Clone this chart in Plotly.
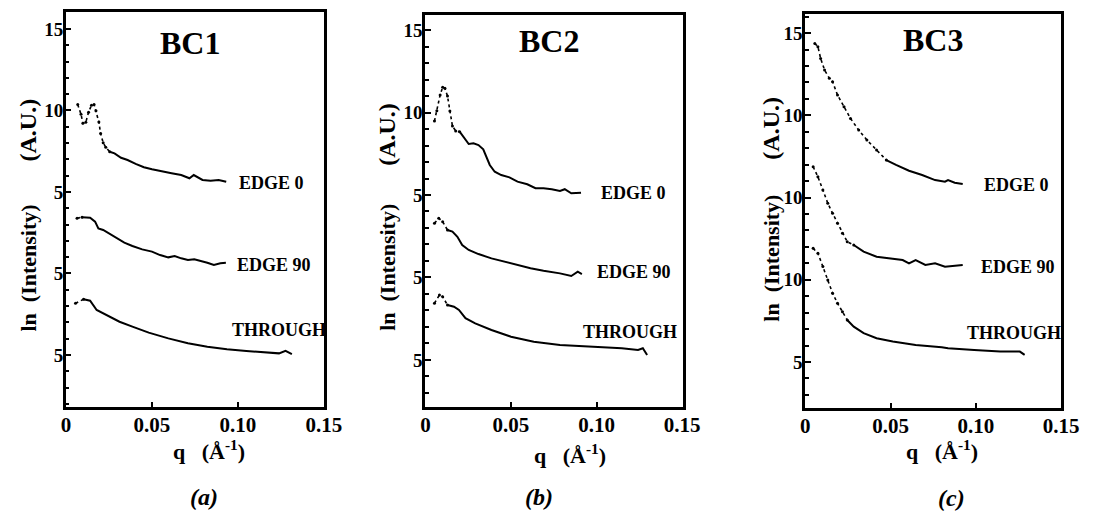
import plotly.graph_objects as go

# ---------------- data ----------------
PANELS = ["BC1", "BC2", "BC3"]
SUBCAPTIONS = ["(a)", "(b)", "(c)"]
CURVE_NAMES = ["EDGE 0", "EDGE 90", "THROUGH"]
CURVE_OFFSETS = [0, -5, -10]          # vertical shift applied to each curve

X_TICK_VALS = [0, 0.05, 0.10, 0.15]
X_TICK_TEXT = ["0", "0.05", "0.10", "0.15"]
Y_TICK_VALS = [15, 10, 5, 0, -5]
Y_TICK_TEXT_BC1 = ["15", "10", "5", "5", "5"]
Y_TICK_TEXT_BC2 = ["15", "10", "5", "5", "5"]
Y_TICK_TEXT_BC3 = ["15", "10", "10", "10", "5"]

# ---- BC1 ----
BC1_EDGE0_Q = [0.0068, 0.0087, 0.0098, 0.0115, 0.0131, 0.0148, 0.0163, 0.0174, 0.0191, 0.0201,
               0.0216, 0.0231, 0.0254, 0.0282, 0.0320, 0.0358, 0.0405, 0.0453, 0.0500, 0.0557,
               0.0614, 0.0670, 0.0718, 0.0743, 0.0765, 0.0794, 0.0841, 0.0888, 0.0932]
BC1_EDGE0_LNI = [10.36, 9.77, 9.21, 9.28, 9.89, 10.32, 10.36, 9.99, 9.29, 8.58,
                 8.02, 7.74, 7.47, 7.37, 7.10, 6.96, 6.72, 6.52, 6.39, 6.25,
                 6.15, 6.04, 5.84, 6.04, 5.90, 5.74, 5.69, 5.74, 5.63]
BC1_EDGE90_Q = [0.0064, 0.0093, 0.0140, 0.0169, 0.0188, 0.0216, 0.0254, 0.0291, 0.0339, 0.0386,
                0.0443, 0.0500, 0.0547, 0.0595, 0.0632, 0.0670, 0.0709, 0.0746, 0.0784, 0.0822,
                0.0860, 0.0898, 0.0930]
BC1_EDGE90_LNI = [8.39, 8.45, 8.42, 8.18, 7.77, 7.67, 7.42, 7.16, 6.89, 6.69,
                  6.48, 6.34, 6.13, 5.99, 6.07, 5.93, 5.83, 5.87, 5.77, 5.66,
                  5.52, 5.63, 5.66]
BC1_THROUGH_Q = [0.0055, 0.0102, 0.0140, 0.0178, 0.0235, 0.0311, 0.0386, 0.0481, 0.0595, 0.0709,
                 0.0822, 0.0936, 0.1049, 0.1163, 0.1239, 0.1277, 0.1314]
BC1_THROUGH_LNI = [8.17, 8.42, 8.33, 7.76, 7.45, 7.04, 6.74, 6.37, 6.02, 5.72,
                   5.51, 5.35, 5.25, 5.17, 5.10, 5.26, 5.06]

# ---- BC2 ----
BC2_EDGE0_Q = [0.0053, 0.0067, 0.0086, 0.0101, 0.0114, 0.0129, 0.0143, 0.0158, 0.0177, 0.0200,
               0.0224, 0.0253, 0.0281, 0.0310, 0.0338, 0.0358, 0.0376, 0.0405, 0.0443, 0.0491,
               0.0538, 0.0595, 0.0643, 0.0690, 0.0738, 0.0786, 0.0814, 0.0852, 0.0909]
BC2_EDGE0_LNI = [9.48, 10.11, 11.06, 11.53, 11.47, 11.00, 10.09, 9.18, 8.88, 8.84,
                 8.50, 8.09, 8.13, 8.03, 7.77, 7.32, 6.82, 6.41, 6.21, 6.07,
                 5.81, 5.65, 5.41, 5.41, 5.35, 5.24, 5.35, 5.10, 5.14]
BC2_EDGE90_Q = [0.0053, 0.0078, 0.0101, 0.0129, 0.0158, 0.0187, 0.0215, 0.0253, 0.0310, 0.0386,
                0.0462, 0.0538, 0.0614, 0.0690, 0.0786, 0.0852, 0.0890, 0.0914]
BC2_EDGE90_LNI = [8.28, 8.59, 8.38, 7.88, 7.78, 7.47, 6.97, 6.67, 6.42, 6.16,
                  5.96, 5.76, 5.56, 5.41, 5.25, 5.09, 5.35, 5.21]
BC2_THROUGH_Q = [0.0053, 0.0082, 0.0101, 0.0129, 0.0167, 0.0196, 0.0234, 0.0291, 0.0386, 0.0500,
                 0.0633, 0.0786, 0.0994, 0.1147, 0.1242, 0.1270, 0.1295]
BC2_THROUGH_LNI = [8.44, 8.94, 8.84, 8.33, 8.23, 8.03, 7.53, 7.22, 6.82, 6.41,
                   6.11, 5.91, 5.81, 5.71, 5.61, 5.71, 5.30]

# ---- BC3 ----
BC3_EDGE0_Q = [0.0056, 0.0074, 0.0090, 0.0113, 0.0141, 0.0160, 0.0189, 0.0227, 0.0265, 0.0313,
               0.0361, 0.0418, 0.0475, 0.0532, 0.0608, 0.0685, 0.0761, 0.0819, 0.0837, 0.0876,
               0.0923]
BC3_EDGE0_LNI = [14.37, 14.17, 13.46, 12.75, 12.25, 12.04, 11.23, 10.52, 9.81, 9.10,
                 8.50, 7.89, 7.28, 6.98, 6.63, 6.37, 6.06, 5.96, 6.06, 5.90,
                 5.82]
BC3_EDGE90_Q = [0.0046, 0.0074, 0.0103, 0.0132, 0.0160, 0.0189, 0.0218, 0.0246, 0.0284, 0.0342,
                0.0418, 0.0494, 0.0571, 0.0608, 0.0647, 0.0704, 0.0761, 0.0819, 0.0876, 0.0923]
BC3_EDGE90_LNI = [11.87, 11.26, 10.46, 9.65, 9.04, 8.43, 7.82, 7.31, 7.11, 6.71,
                  6.40, 6.30, 6.20, 6.00, 6.20, 5.90, 6.00, 5.79, 5.84, 5.90]
BC3_THROUGH_Q = [0.0046, 0.0074, 0.0103, 0.0132, 0.0160, 0.0189, 0.0218, 0.0246, 0.0284, 0.0342,
                 0.0418, 0.0513, 0.0647, 0.0800, 0.0837, 0.0990, 0.1143, 0.1258, 0.1286]
BC3_THROUGH_LNI = [11.91, 11.61, 10.80, 9.99, 9.18, 8.57, 8.06, 7.55, 7.15, 6.75,
                   6.44, 6.24, 6.03, 5.89, 5.83, 5.73, 5.63, 5.63, 5.43]

DATA = {
    "BC1": [(BC1_EDGE0_Q, BC1_EDGE0_LNI), (BC1_EDGE90_Q, BC1_EDGE90_LNI), (BC1_THROUGH_Q, BC1_THROUGH_LNI)],
    "BC2": [(BC2_EDGE0_Q, BC2_EDGE0_LNI), (BC2_EDGE90_Q, BC2_EDGE90_LNI), (BC2_THROUGH_Q, BC2_THROUGH_LNI)],
    "BC3": [(BC3_EDGE0_Q, BC3_EDGE0_LNI), (BC3_EDGE90_Q, BC3_EDGE90_LNI), (BC3_THROUGH_Q, BC3_THROUGH_LNI)],
}
Y_TICK_TEXT = {"BC1": Y_TICK_TEXT_BC1, "BC2": Y_TICK_TEXT_BC2, "BC3": Y_TICK_TEXT_BC3}

# ---------------- styling / layout ----------------
W, H = 1102, 513
SERIF = "Liberation Serif, Times New Roman, DejaVu Serif, serif"
# number of leading points drawn as sparse dots (rest is a dense trace)
DOTTED_UNTIL = {"BC1": [12, 1, 1], "BC2": [9, 3, 3], "BC3": [12, 8, 7]}

# plot boxes in pixels: (left, right, top, bottom)
BOX = {"BC1": (62, 326, 12, 407), "BC2": (429, 692, 15, 407), "BC3": (817, 1079, 14, 408)}
Y_RANGE = {"BC1": [-8.19, 16.04], "BC2": [-7.85, 15.91], "BC3": [-7.80, 16.16]}
X_RANGE = [-0.0002, 0.1502]

TITLE_POS = {"BC1": (189, 43), "BC2": (556, 41), "BC3": (948, 40)}
LABEL_POS = {
    "BC1": [(237, 183), (235, 265), (230, 330)],
    "BC2": [(607, 193), (603, 272), (588, 332)],
    "BC3": [(998, 185), (995, 267), (980, 333)],
}
YTITLE_POS = {"BC1": (23, 268, 130), "BC2": (390, 267, 134), "BC3": (782, 258, 128)}
XTITLE_POS = {"BC1": (208, 450), "BC2": (577, 454), "BC3": (957, 450)}
SUB_POS = {"BC1": (203, 497), "BC2": (545, 497), "BC3": (967, 498)}

fig = go.Figure()
annotations = []
layout_axes = {}

def px_x(p):
    return p / W

def px_y(p):
    return 1 - p / H

for i, panel in enumerate(PANELS):
    sfx = "" if i == 0 else str(i + 1)
    xa, ya = "x" + sfx, "y" + sfx
    for (q, lni), off, nd in zip(DATA[panel], CURVE_OFFSETS, DOTTED_UNTIL[panel]):
        yv = [v + off for v in lni]
        # sparse dotted part
        fig.add_trace(go.Scatter(
            x=q[:nd + 1], y=yv[:nd + 1], mode="lines+markers", xaxis=xa, yaxis=ya,
            line=dict(color="black", width=1.6, dash="dot"),
            marker=dict(color="black", size=3), showlegend=False, hoverinfo="skip"))
        # dense part
        fig.add_trace(go.Scatter(
            x=q[nd:], y=yv[nd:], mode="lines", xaxis=xa, yaxis=ya,
            line=dict(color="black", width=2), showlegend=False, hoverinfo="skip"))

    l, r, t, b = BOX[panel]
    axis_common = dict(showline=True, linecolor="black", linewidth=2.5, mirror=True,
                       showgrid=False, zeroline=False, ticks="inside", tickcolor="black")
    layout_axes["xaxis" + sfx] = dict(
        axis_common, domain=[px_x(l), px_x(r)], anchor=ya, range=X_RANGE,
        tickmode="array", tickvals=X_TICK_VALS, ticktext=X_TICK_TEXT,
        ticklen=5, tickwidth=2, ticklabelstandoff=-3,
        tickfont=dict(family=SERIF, size=21, color="black", weight="bold"))
    layout_axes["yaxis" + sfx] = dict(
        axis_common, domain=[px_y(b), px_y(t)], anchor=xa, range=Y_RANGE[panel],
        tickmode="array", tickvals=Y_TICK_VALS, ticktext=Y_TICK_TEXT[panel],
        ticklen=6, tickwidth=2, ticklabelstandoff=-4,
        tickfont=dict(family=SERIF, size=19, color="black", weight="bold"),
        minor=dict(tickmode="linear", tick0=0, dtick=1, ticks="inside", ticklen=4,
                   tickwidth=2, tickcolor="black", showgrid=False))

    tx, ty = TITLE_POS[panel]
    annotations.append(dict(text=panel, x=px_x(tx), y=px_y(ty), xref="paper", yref="paper",
                            showarrow=False, xanchor="center", yanchor="middle",
                            font=dict(family=SERIF, size=32, color="black", weight="bold")))
    for name, (lx, ly) in zip(CURVE_NAMES, LABEL_POS[panel]):
        annotations.append(dict(text=name, x=px_x(lx), y=px_y(ly), xref="paper", yref="paper",
                                showarrow=False, xanchor="left", yanchor="middle",
                                font=dict(family=SERIF, size=18, color="black", weight="bold")))
    yx, y1, y2 = YTITLE_POS[panel]
    annotations.append(dict(text="ln\u00a0\u00a0(Intensity)", x=px_x(yx), y=px_y(y1),
                            xref="paper", yref="paper", textangle=-90, showarrow=False,
                            xanchor="center", yanchor="middle",
                            font=dict(family=SERIF, size=22, color="black", weight="bold")))
    annotations.append(dict(text="(A.U.)", x=px_x(yx), y=px_y(y2),
                            xref="paper", yref="paper", textangle=-90, showarrow=False,
                            xanchor="center", yanchor="middle",
                            font=dict(family=SERIF, size=24, color="black", weight="bold")))
    qx, qy = XTITLE_POS[panel]
    annotations.append(dict(text="q\u00a0\u00a0\u00a0(Å<sup>-1</sup>)", x=px_x(qx), y=px_y(qy),
                            xref="paper", yref="paper", showarrow=False,
                            xanchor="center", yanchor="middle",
                            font=dict(family=SERIF, size=22, color="black", weight="bold")))
    sx, sy = SUB_POS[panel]
    annotations.append(dict(text="<i>" + SUBCAPTIONS[i] + "</i>", x=px_x(sx), y=px_y(sy),
                            xref="paper", yref="paper", showarrow=False,
                            xanchor="center", yanchor="middle",
                            font=dict(family=SERIF, size=24, color="black", weight="bold")))

fig.update_layout(width=W, height=H, margin=dict(l=0, r=0, t=0, b=0),
                  paper_bgcolor="white", plot_bgcolor="white",
                  annotations=annotations, **layout_axes)

fig.write_html("out.html", config={"displayModeBar": False},
               post_script="document.body.style.margin='0';document.body.style.overflow='hidden';")
